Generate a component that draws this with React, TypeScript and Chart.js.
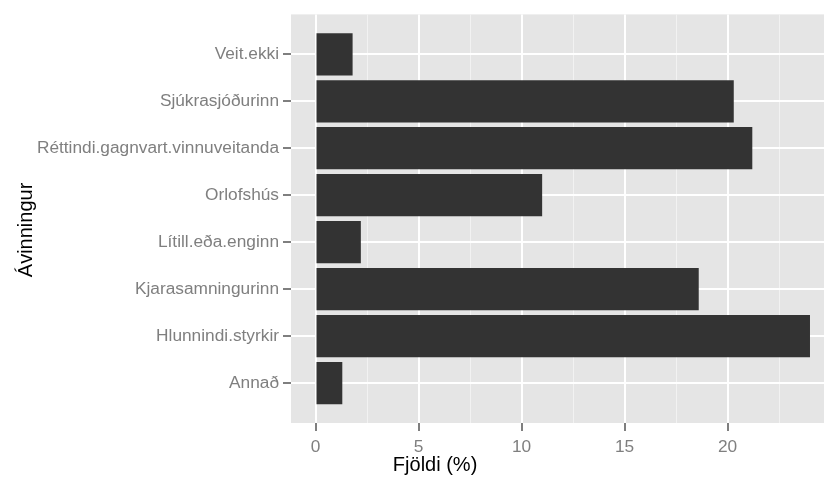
import React, { useEffect, useRef } from "react";
import { Chart, registerables } from "chart.js";

Chart.register(...registerables);

// ---- data ----
const categories = [
  "Annað",
  "Hlunnindi.styrkir",
  "Kjarasamningurinn",
  "Lítill.eða.enginn",
  "Orlofshús",
  "Réttindi.gagnvart.vinnuveitanda",
  "Sjúkrasjóðurinn",
  "Veit.ekki",
];
const values = [1.3, 24.0, 18.6, 2.2, 11.0, 21.2, 20.3, 1.8];
const xMajorTicks = [0, 5, 10, 15, 20];
const xMinorTicks = [2.5, 7.5, 12.5, 17.5, 22.5];
const xTitle = "Fjöldi (%)";
const yTitle = "Ávinningur";

const FONT = "'Liberation Sans', Arial, Helvetica, sans-serif";
const GREY50 = "#7F7F7F";

const panelPlugin = {
  id: "ggpanel",
  beforeDraw(chart: any) {
    const { ctx, chartArea: a } = chart;
    ctx.save();
    ctx.fillStyle = "#E5E5E5";
    ctx.fillRect(a.left, a.top, a.right - a.left, a.bottom - a.top);
    ctx.restore();
  },
  afterDraw(chart: any) {
    const { ctx } = chart;
    ctx.save();
    ctx.fillStyle = "#000000";
    ctx.font = `20px ${FONT}`;
    ctx.textAlign = "center";
    ctx.textBaseline = "alphabetic";
    // x-axis title
    ctx.fillText(xTitle, chart.width * 0.528, chart.height - 6.5);
    // y-axis title (rotated)
    ctx.translate(32, chart.height * 0.482);
    ctx.rotate(-Math.PI / 2);
    ctx.fillText(yTitle, 0, 0);
    ctx.restore();
  },
};

export default function App() {
  const ref = useRef<HTMLCanvasElement | null>(null);

  useEffect(() => {
    document.body.style.margin = "0";
    const canvas = ref.current;
    if (!canvas) return;
    const allXTicks = [...xMajorTicks, ...xMinorTicks].sort((a, b) => a - b);
    const isMajor = (v: number) => xMajorTicks.includes(v);

    const chart = new Chart(canvas, {
      type: "bar",
      data: {
        datasets: [
          {
            data: categories.map((c, i) => ({ x: values[i], y: i })),
            backgroundColor: "#333333",
            borderWidth: 0,
            barPercentage: 0.9,
            categoryPercentage: 1,
          },
        ],
      },
      options: {
        indexAxis: "y",
        animation: false,
        responsive: false,
        layout: { padding: { top: 13, right: 0, bottom: 0, left: 0 } },
        plugins: {
          legend: { display: false },
          tooltip: { enabled: false },
          title: { display: false },
        },
        scales: {
          x: {
            type: "linear",
            min: -1.19,
            max: 24.68,
            offset: false,
            border: { display: false },
            afterBuildTicks: (axis: any) => {
              axis.ticks = allXTicks.map((v) => ({ value: v }));
            },
            afterFit: (axis: any) => {
              axis.height = 54;
            },
            grid: {
              offset: false,
              color: (ctx: any) => (isMajor(ctx.tick?.value) ? "#FFFFFF" : "#F2F2F2"),
              lineWidth: (ctx: any) => (isMajor(ctx.tick?.value) ? 2 : 1),
              tickColor: (ctx: any) => (isMajor(ctx.tick?.value) ? GREY50 : "rgba(0,0,0,0)"),
              tickWidth: 2,
              tickLength: 8,
              drawTicks: true,
            },
            ticks: {
              color: GREY50,
              font: { family: FONT, size: 17.3 },
              padding: 6,
              maxRotation: 0,
              autoSkip: false,
              callback: (v: any) => (isMajor(Number(v)) ? String(v) : ""),
            },
          },
          y: {
            type: "linear",
            min: -0.85,
            max: 7.85,
            offset: false,
            border: { display: false },
            afterBuildTicks: (axis: any) => {
              axis.ticks = categories.map((c, i) => ({ value: i }));
            },
            afterFit: (axis: any) => {
              axis.width = 291;
            },
            grid: {
              offset: false,
              color: "#FFFFFF",
              lineWidth: 2,
              tickColor: GREY50,
              tickWidth: 2,
              tickLength: 8,
            },
            ticks: {
              color: GREY50,
              font: { family: FONT, size: 17.3 },
              padding: 4,
              autoSkip: false,
              callback: (v: any) => categories[Number(v)] ?? "",
            },
          },
        },
      },
      plugins: [panelPlugin],
    });
    return () => chart.destroy();
  }, []);

  return (
    <canvas
      ref={ref}
      width={824}
      height={477}
      style={{ display: "block", width: 824, height: 477 }}
    />
  );
}
